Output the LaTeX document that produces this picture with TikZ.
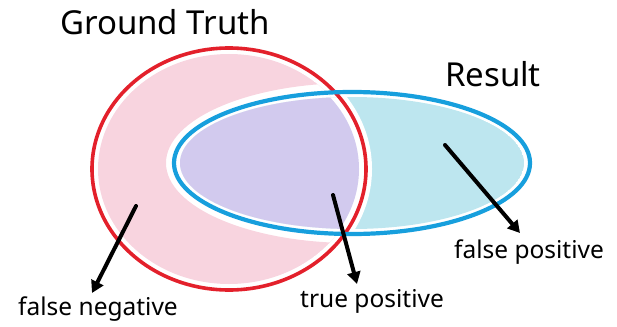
\documentclass[tikz,border=0pt]{standalone}
\usepackage{fontspec}
\setmainfont{Noto Sans}
\usetikzlibrary{arrows.meta}
\definecolor{gtred}{HTML}{E3202B}
\definecolor{resblue}{HTML}{179FDD}
\definecolor{fnpink}{HTML}{F8D4DF}
\definecolor{tplav}{HTML}{D2CAEE}
\definecolor{fpcyan}{HTML}{BDE6EF}
\tikzset{
  every picture/.style={
    line join=round,
    line cap=round,
  },
  gtline/.style={draw=gtred, line width=3.6pt},
  resline/.style={draw=resblue, line width=4.2pt},
  pointer/.style={line width=4pt, -{Triangle[length=12pt,width=13pt]}},
  title/.style={font=\fontsize{33}{34}\selectfont},
  region/.style={font=\fontsize{24.5}{26}\selectfont},
}

\begin{document}
\begin{tikzpicture}[x=1pt,y=-1pt]
    \useasboundingbox (0,0) rectangle (617,326);
    % Centres
    \coordinate (gtc) at (229,169);
    \coordinate (rsc) at (352,163);
    % Shaded regions
    \begin{scope}
      \clip (gtc) ellipse [x radius=131pt, y radius=115pt];
      \fill[fnpink, even odd rule] (gtc) ellipse [x radius=131pt, y radius=115pt]
          (rsc) ellipse [x radius=186pt, y radius=80pt];
    \end{scope}
    \begin{scope}
      \clip (rsc) ellipse [x radius=172pt, y radius=66pt];
      \fill[fpcyan] (rsc) ellipse [x radius=172pt, y radius=66pt];
      \fill[white] (gtc) ellipse [x radius=143pt, y radius=127pt];
      \fill[tplav] (gtc) ellipse [x radius=130pt, y radius=114pt];
    \end{scope}
    % Outlines
    \draw[gtline] (gtc) ellipse [x radius=137pt, y radius=121pt];
    \draw[resline] (rsc) ellipse [x radius=178pt, y radius=71pt];
    % Titles
    \node[title] (gt) at (165,22) {Ground Truth};
    \node[title] (res) at (493,74) {Result};
    % Region labels
    \node[region] (fn) at (98,309) {false negative};
    \node[region] (tp) at (372,301) {true positive};
    \node[region] (fp) at (529,252) {false positive};
    % Pointers
    \coordinate (fnsrc) at (136,206);
    \coordinate (fntip) at (92,293);
    \coordinate (tpsrc) at (333,195);
    \coordinate (tptip) at (357,284);
    \coordinate (fpsrc) at (445,145);
    \coordinate (fptip) at (520,233);
    \draw[pointer] (fnsrc) -- (fntip);
    \draw[pointer] (tpsrc) -- (tptip);
    \draw[pointer] (fpsrc) -- (fptip);
\end{tikzpicture}
\end{document}
